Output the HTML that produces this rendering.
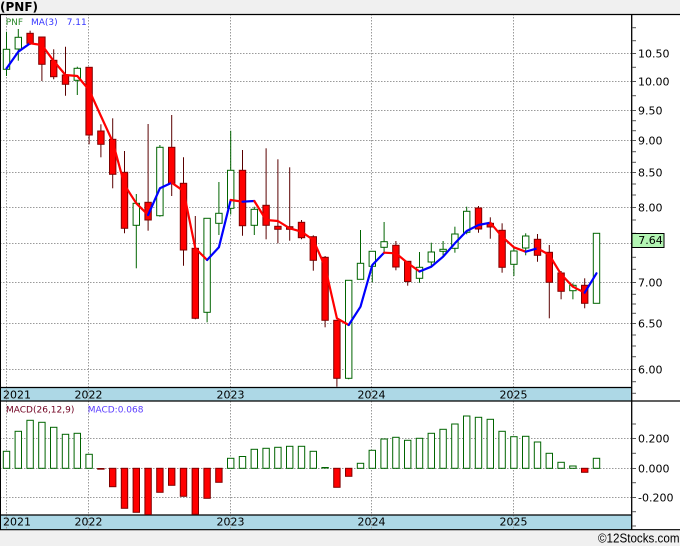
<!DOCTYPE html>
<html><head><meta charset="utf-8"><style>
html,body{margin:0;padding:0;background:#f0f0f0;}
svg{display:block;}
text{font-family:"DejaVu Sans","Liberation Sans",sans-serif;}
.gw{stroke:#006400;stroke-width:1;}
.rw{stroke:#5a0000;stroke-width:1;}
.g{fill:#fff;stroke:#006400;stroke-width:1;}
.r{fill:#ff0000;stroke:#800000;stroke-width:1;}
.grid{stroke:#9a9a9a;stroke-width:1;stroke-dasharray:1.5,1.5;fill:none;}
.tk{stroke:#555;stroke-width:1;}
.ax{font-size:11px;fill:#000;}
</style></head><body>
<svg width="680" height="546" viewBox="0 0 680 546" xmlns="http://www.w3.org/2000/svg">
<rect x="0" y="0" width="680" height="546" fill="#f0f0f0"/>
<rect x="0" y="14" width="680" height="516" fill="#ffffff"/>
<text x="0" y="11" font-size="12" font-weight="bold" fill="#000">(PNF)</text>

<!-- bands -->
<rect x="0" y="387.5" width="632" height="13.5" fill="#add8e6"/>
<rect x="0" y="515" width="632" height="14.5" fill="#add8e6"/>

<!-- horizontal grid main -->
<g class="grid">
<line x1="0" y1="53.5" x2="632" y2="53.5"/>
<line x1="0" y1="81.5" x2="632" y2="81.5"/>
<line x1="0" y1="110.5" x2="632" y2="110.5"/>
<line x1="0" y1="140.5" x2="632" y2="140.5"/>
<line x1="0" y1="172.5" x2="632" y2="172.5"/>
<line x1="0" y1="207.5" x2="632" y2="207.5"/>
<line x1="0" y1="243.5" x2="632" y2="243.5"/>
<line x1="0" y1="282.5" x2="632" y2="282.5"/>
<line x1="0" y1="323.5" x2="632" y2="323.5"/>
<line x1="0" y1="369.5" x2="632" y2="369.5"/>
<line x1="0" y1="438.5" x2="632" y2="438.5"/>
<line x1="0" y1="468.5" x2="632" y2="468.5"/>
<line x1="0" y1="497.5" x2="632" y2="497.5"/>
<line x1="6.5" y1="14" x2="6.5" y2="530"/>
<line x1="88.5" y1="14" x2="88.5" y2="530"/>
<line x1="230.5" y1="14" x2="230.5" y2="530"/>
<line x1="371.5" y1="14" x2="371.5" y2="530"/>
<line x1="513.5" y1="14" x2="513.5" y2="530"/>
</g>

<!-- frame lines -->
<line x1="0" y1="14.5" x2="680" y2="14.5" stroke="#000" stroke-width="1.2"/>
<line x1="0.5" y1="14" x2="0.5" y2="530" stroke="#000" stroke-width="1"/>
<line x1="0" y1="387.5" x2="632" y2="387.5" stroke="#000" stroke-width="1.2"/>
<line x1="0" y1="401" x2="680" y2="401" stroke="#000" stroke-width="1.2"/>
<line x1="0" y1="515" x2="632" y2="515" stroke="#000" stroke-width="1.2"/>
<line x1="0" y1="529.7" x2="680" y2="529.7" stroke="#000" stroke-width="1.2"/>
<line x1="631.7" y1="14" x2="631.7" y2="530" stroke="#000" stroke-width="1.3"/>

<!-- year labels -->
<g class="ax">
<text x="3" y="398.3">2021</text>
<text x="88.5" y="398.3" text-anchor="middle">2022</text>
<text x="230.5" y="398.3" text-anchor="middle">2023</text>
<text x="371.5" y="398.3" text-anchor="middle">2024</text>
<text x="513.5" y="398.3" text-anchor="middle">2025</text>
<text x="3" y="525.7">2021</text>
<text x="88.5" y="525.7" text-anchor="middle">2022</text>
<text x="230.5" y="525.7" text-anchor="middle">2023</text>
<text x="371.5" y="525.7" text-anchor="middle">2024</text>
<text x="513.5" y="525.7" text-anchor="middle">2025</text>
</g>

<!-- right axis ticks -->
<g class="tk">
<line x1="632" y1="27.7" x2="636" y2="27.7"/><line x1="632" y1="40.7" x2="636" y2="40.7"/>
<line x1="632" y1="53.5" x2="636" y2="53.5"/><line x1="632" y1="67.3" x2="636" y2="67.3"/>
<line x1="632" y1="81.5" x2="636" y2="81.5"/><line x1="632" y1="95.7" x2="636" y2="95.7"/>
<line x1="632" y1="110.5" x2="636" y2="110.5"/><line x1="632" y1="120.7" x2="636" y2="120.7"/>
<line x1="632" y1="130.7" x2="636" y2="130.7"/><line x1="632" y1="140.5" x2="636" y2="140.5"/>
<line x1="632" y1="151.7" x2="636" y2="151.7"/><line x1="632" y1="162.3" x2="636" y2="162.3"/>
<line x1="632" y1="172.5" x2="636" y2="172.5"/><line x1="632" y1="184" x2="636" y2="184"/>
<line x1="632" y1="195" x2="636" y2="195"/><line x1="632" y1="207.5" x2="636" y2="207.5"/>
<line x1="632" y1="220" x2="636" y2="220"/><line x1="632" y1="233.3" x2="636" y2="233.3"/>
<line x1="632" y1="257.3" x2="636" y2="257.3"/><line x1="632" y1="269.3" x2="636" y2="269.3"/>
<line x1="632" y1="282.5" x2="636" y2="282.5"/><line x1="632" y1="294.3" x2="636" y2="294.3"/>
<line x1="632" y1="304" x2="636" y2="304"/><line x1="632" y1="313.3" x2="636" y2="313.3"/>
<line x1="632" y1="323.5" x2="636" y2="323.5"/><line x1="632" y1="335" x2="636" y2="335"/>
<line x1="632" y1="346" x2="636" y2="346"/><line x1="632" y1="356.7" x2="636" y2="356.7"/>
<line x1="632" y1="369.5" x2="636" y2="369.5"/><line x1="632" y1="381.7" x2="636" y2="381.7"/>
<line x1="632" y1="393.3" x2="636" y2="393.3"/>
<line x1="632" y1="424" x2="636" y2="424"/><line x1="632" y1="438.5" x2="636" y2="438.5"/>
<line x1="632" y1="453.3" x2="636" y2="453.3"/><line x1="632" y1="468.5" x2="636" y2="468.5"/>
<line x1="632" y1="482.7" x2="636" y2="482.7"/><line x1="632" y1="497.5" x2="636" y2="497.5"/>
<line x1="632" y1="511.7" x2="636" y2="511.7"/><line x1="632" y1="526" x2="636" y2="526"/>
</g>

<!-- right axis labels -->
<g class="ax">
<text x="638" y="57.5">10.50</text>
<text x="638" y="85.3">10.00</text>
<text x="638" y="114.3">9.50</text>
<text x="638" y="144.3">9.00</text>
<text x="638" y="176.5">8.50</text>
<text x="638" y="211.3">8.00</text>
<text x="638" y="286.3">7.00</text>
<text x="638" y="327.7">6.50</text>
<text x="638" y="373.3">6.00</text>
<text x="638" y="442.5">0.200</text>
<text x="638" y="472.3">0.000</text>
<text x="638" y="501.5">-0.200</text>
</g>
<rect x="632" y="233.5" width="32" height="14" fill="#b3f5b3" stroke="#000" stroke-width="1"/>
<text class="ax" x="638.3" y="244.2">7.64</text>

<!-- candles -->
<g>
<line class="gw" x1="6.5" y1="31.7" x2="6.5" y2="76"/><rect class="g" x="3.3" y="49.3" width="6.4" height="20"/>
<line class="gw" x1="18.3" y1="29" x2="18.3" y2="60.7"/><rect class="g" x="15.1" y="37.3" width="6.4" height="11.7"/>
<line class="rw" x1="30.1" y1="30.7" x2="30.1" y2="45"/><rect class="r" x="26.9" y="33.3" width="6.4" height="10"/>
<line class="rw" x1="41.9" y1="37" x2="41.9" y2="81"/><rect class="r" x="38.7" y="37" width="6.4" height="27.3"/>
<line class="rw" x1="53.7" y1="49.3" x2="53.7" y2="79.3"/><rect class="r" x="50.5" y="60.3" width="6.4" height="16.4"/>
<line class="rw" x1="65.5" y1="46.7" x2="65.5" y2="95.7"/><rect class="r" x="62.3" y="75" width="6.4" height="9.3"/>
<line class="gw" x1="77.3" y1="66.7" x2="77.3" y2="95"/><rect class="g" x="74.1" y="68.3" width="6.4" height="12"/>
<line class="rw" x1="89.1" y1="67.3" x2="89.1" y2="144.3"/><rect class="r" x="85.9" y="67.3" width="6.4" height="67.7"/>
<line class="rw" x1="100.9" y1="124.3" x2="100.9" y2="157.3"/><rect class="r" x="97.7" y="131" width="6.4" height="13.3"/>
<line class="rw" x1="112.7" y1="118.3" x2="112.7" y2="188.3"/><rect class="r" x="109.5" y="139.3" width="6.4" height="35"/>
<line class="rw" x1="124.5" y1="151" x2="124.5" y2="233.3"/><rect class="r" x="121.3" y="172.3" width="6.4" height="56"/>
<line class="gw" x1="136.3" y1="194" x2="136.3" y2="268.3"/><rect class="g" x="133.1" y="203.3" width="6.4" height="22"/>
<line class="rw" x1="148.1" y1="124" x2="148.1" y2="230.7"/><rect class="r" x="144.9" y="202.3" width="6.4" height="17.7"/>
<line class="gw" x1="159.9" y1="145" x2="159.9" y2="216.7"/><rect class="g" x="156.7" y="147.3" width="6.4" height="68.4"/>
<line class="rw" x1="171.7" y1="115" x2="171.7" y2="196"/><rect class="r" x="168.5" y="147.3" width="6.4" height="36"/>
<line class="rw" x1="183.5" y1="157.3" x2="183.5" y2="265.7"/><rect class="r" x="180.3" y="183.3" width="6.4" height="66.7"/>
<line class="rw" x1="195.3" y1="216" x2="195.3" y2="319.3"/><rect class="r" x="192.1" y="248.3" width="6.4" height="70"/>
<line class="gw" x1="207.1" y1="218.3" x2="207.1" y2="322.3"/><rect class="g" x="203.9" y="218.3" width="6.4" height="94"/>
<line class="gw" x1="218.9" y1="182" x2="218.9" y2="235"/><rect class="g" x="215.7" y="213.3" width="6.4" height="10"/>
<line class="gw" x1="230.7" y1="130.7" x2="230.7" y2="214.5"/><rect class="g" x="227.5" y="170.3" width="6.4" height="38"/>
<line class="rw" x1="242.5" y1="150" x2="242.5" y2="235.7"/><rect class="r" x="239.3" y="170.3" width="6.4" height="55.4"/>
<line class="gw" x1="254.3" y1="206.7" x2="254.3" y2="235"/><rect class="g" x="251.1" y="209.3" width="6.4" height="16"/>
<line class="rw" x1="266.1" y1="148.3" x2="266.1" y2="239.3"/><rect class="r" x="262.9" y="205.3" width="6.4" height="20"/>
<line class="rw" x1="277.9" y1="159.3" x2="277.9" y2="243.3"/><rect class="r" x="274.7" y="226.3" width="6.4" height="3"/>
<line class="rw" x1="289.7" y1="167.3" x2="289.7" y2="240.7"/><rect class="r" x="286.5" y="226.7" width="6.4" height="2.6"/>
<line class="rw" x1="301.5" y1="220" x2="301.5" y2="239.3"/><rect class="r" x="298.3" y="222.3" width="6.4" height="15.4"/>
<line class="rw" x1="313.3" y1="235.3" x2="313.3" y2="270.7"/><rect class="r" x="310.1" y="236.7" width="6.4" height="23.6"/>
<line class="rw" x1="325.1" y1="256" x2="325.1" y2="327.3"/><rect class="r" x="321.9" y="257.3" width="6.4" height="63"/>
<line class="rw" x1="336.9" y1="320.3" x2="336.9" y2="386.7"/><rect class="r" x="333.7" y="320.3" width="6.4" height="58"/>
<line class="gw" x1="348.7" y1="280.3" x2="348.7" y2="379.3"/><rect class="g" x="345.5" y="280.3" width="6.4" height="98"/>
<line class="gw" x1="360.5" y1="230" x2="360.5" y2="279.3"/><rect class="g" x="357.3" y="263.3" width="6.4" height="16"/>
<line class="gw" x1="372.3" y1="251.3" x2="372.3" y2="282.3"/><rect class="g" x="369.1" y="251.3" width="6.4" height="15"/>
<line class="gw" x1="384.1" y1="222" x2="384.1" y2="253.3"/><rect class="g" x="380.9" y="241.7" width="6.4" height="5.6"/>
<line class="rw" x1="395.9" y1="241" x2="395.9" y2="270.3"/><rect class="r" x="392.7" y="245.3" width="6.4" height="21.7"/>
<line class="rw" x1="407.7" y1="261.3" x2="407.7" y2="285.7"/><rect class="r" x="404.5" y="261.3" width="6.4" height="20.2"/>
<line class="gw" x1="419.5" y1="252" x2="419.5" y2="282.7"/><rect class="g" x="416.3" y="267.3" width="6.4" height="11"/>
<line class="gw" x1="431.3" y1="242.7" x2="431.3" y2="266.7"/><rect class="g" x="428.1" y="252" width="6.4" height="10"/>
<line class="gw" x1="443.1" y1="241" x2="443.1" y2="255.7"/><rect class="g" x="439.9" y="249.3" width="6.4" height="2"/>
<line class="gw" x1="454.9" y1="226.7" x2="454.9" y2="252.7"/><rect class="g" x="451.7" y="234" width="6.4" height="14.3"/>
<line class="gw" x1="466.7" y1="206.7" x2="466.7" y2="234.3"/><rect class="g" x="463.5" y="211.3" width="6.4" height="21"/>
<line class="rw" x1="478.5" y1="206" x2="478.5" y2="232.7"/><rect class="r" x="475.3" y="208" width="6.4" height="21"/>
<line class="rw" x1="490.3" y1="217.3" x2="490.3" y2="238.7"/><rect class="r" x="487.1" y="223.3" width="6.4" height="3.7"/>
<line class="rw" x1="502.1" y1="223.3" x2="502.1" y2="272.7"/><rect class="r" x="498.9" y="230.3" width="6.4" height="37"/>
<line class="gw" x1="513.9" y1="247.7" x2="513.9" y2="276"/><rect class="g" x="510.7" y="251" width="6.4" height="13.3"/>
<line class="gw" x1="525.7" y1="233.3" x2="525.7" y2="255.3"/><rect class="g" x="522.5" y="236" width="6.4" height="12"/>
<line class="rw" x1="537.5" y1="234" x2="537.5" y2="261.7"/><rect class="r" x="534.3" y="239.3" width="6.4" height="16"/>
<line class="rw" x1="549.3" y1="245" x2="549.3" y2="318.3"/><rect class="r" x="546.1" y="252.3" width="6.4" height="30"/>
<line class="rw" x1="561.1" y1="271" x2="561.1" y2="299.3"/><rect class="r" x="557.9" y="273" width="6.4" height="18.3"/>
<line class="gw" x1="572.9" y1="283.3" x2="572.9" y2="299.3"/><rect class="g" x="569.7" y="285.3" width="6.4" height="5.4"/>
<line class="rw" x1="584.7" y1="278.3" x2="584.7" y2="308.3"/><rect class="r" x="581.5" y="285.3" width="6.4" height="18"/>
<rect class="g" x="593.3" y="233.3" width="6.4" height="70"/>
</g>

<!-- MA(3) -->
<g fill="none" stroke-width="2.2" stroke-linejoin="round" stroke-linecap="round">
<polyline stroke="#0000ff" points="6.5,68.5 18.3,51.7 30.1,43.3"/>
<polyline stroke="#ff0000" points="30.1,43.3 41.9,45 53.7,61 65.5,75 77.3,76 89.1,90 100.9,116 112.7,141.7 124.5,185 136.3,203.3 148.1,215"/>
<polyline stroke="#0000ff" points="148.1,215 159.9,188.3 171.7,182.7"/>
<polyline stroke="#ff0000" points="171.7,182.7 183.5,191 195.3,248.3 207.1,260"/>
<polyline stroke="#0000ff" points="207.1,260 218.9,247.3 230.7,200"/>
<polyline stroke="#ff0000" points="230.7,200 242.5,201.7"/>
<polyline stroke="#0000ff" points="242.5,201.7 254.3,201"/>
<polyline stroke="#ff0000" points="254.3,201 266.1,220 277.9,221 289.7,228.3 301.5,231.7 313.3,240 325.1,266.7 336.9,318.3 348.7,325"/>
<polyline stroke="#0000ff" points="348.7,325 360.5,306.7 372.3,265 384.1,252.7"/>
<polyline stroke="#ff0000" points="384.1,252.7 395.9,253.3 407.7,263 419.5,271.5"/>
<polyline stroke="#0000ff" points="419.5,271.5 431.3,266.7 443.1,256.7 454.9,243.3 466.7,231 478.5,225 490.3,222.7"/>
<polyline stroke="#ff0000" points="490.3,222.7 502.1,236.7 513.9,247.3 525.7,251.7"/>
<polyline stroke="#0000ff" points="525.7,251.7 537.5,248.3"/>
<polyline stroke="#ff0000" points="537.5,248.3 549.3,255 561.1,274.3 572.9,286.7 584.7,292.7"/>
<polyline stroke="#0000ff" points="584.7,292.7 596.5,273.3"/>
</g>

<!-- legend -->
<g font-size="9">
<text x="5.7" y="25" fill="#2f8a2f">PNF</text>
<text x="31" y="25" fill="#3636ff">MA(3)</text>
<text x="66.7" y="25" fill="#3636ff">7.11</text>
<text x="6" y="412.7" fill="#700020">MACD(26,12,9)</text>
<text x="87.7" y="412.7" fill="#5a3cff">MACD:0.068</text>
</g>

<!-- MACD bars -->
<g>
<rect class="g" x="3.3" y="451.3" width="6.4" height="17"/>
<rect class="g" x="15.1" y="431.3" width="6.4" height="37"/>
<rect class="g" x="26.9" y="420.3" width="6.4" height="48"/>
<rect class="g" x="38.7" y="422.3" width="6.4" height="46"/>
<rect class="g" x="50.5" y="427.3" width="6.4" height="41"/>
<rect class="g" x="62.3" y="434.3" width="6.4" height="34"/>
<rect class="g" x="74.1" y="433.3" width="6.4" height="35"/>
<rect class="g" x="85.9" y="454.3" width="6.4" height="14"/>
<rect x="97.2" y="468" width="7.4" height="1.7" fill="#800000"/>
<rect class="r" x="109.5" y="468.3" width="6.4" height="18.4"/>
<rect class="r" x="121.3" y="468.3" width="6.4" height="40"/>
<rect class="r" x="133.1" y="468.3" width="6.4" height="44"/>
<rect class="r" x="144.9" y="468.3" width="6.4" height="46.2"/>
<rect class="r" x="156.7" y="468.3" width="6.4" height="24"/>
<rect class="r" x="168.5" y="468.3" width="6.4" height="17"/>
<rect class="r" x="180.3" y="468.3" width="6.4" height="28"/>
<rect class="r" x="192.1" y="468.3" width="6.4" height="46"/>
<rect class="r" x="203.9" y="468.3" width="6.4" height="30"/>
<rect class="r" x="215.7" y="468.3" width="6.4" height="14"/>
<rect class="g" x="227.5" y="458.3" width="6.4" height="10"/>
<rect class="g" x="239.3" y="456.5" width="6.4" height="11.8"/>
<rect class="g" x="251.1" y="449.3" width="6.4" height="19"/>
<rect class="g" x="262.9" y="448.3" width="6.4" height="20"/>
<rect class="g" x="274.7" y="447.3" width="6.4" height="21"/>
<rect class="g" x="286.5" y="446.3" width="6.4" height="22"/>
<rect class="g" x="298.3" y="446.3" width="6.4" height="22"/>
<rect class="g" x="310.1" y="451.3" width="6.4" height="17"/>
<rect x="321.4" y="467" width="7.4" height="1.5" fill="#006400"/>
<rect class="r" x="333.7" y="468.3" width="6.4" height="19"/>
<rect class="r" x="345.5" y="468.3" width="6.4" height="8"/>
<rect class="g" x="357.3" y="463.3" width="6.4" height="5"/>
<rect class="g" x="369.1" y="450.3" width="6.4" height="18"/>
<rect class="g" x="380.9" y="439" width="6.4" height="29.3"/>
<rect class="g" x="392.7" y="437.3" width="6.4" height="31"/>
<rect class="g" x="404.5" y="440.3" width="6.4" height="28"/>
<rect class="g" x="416.3" y="438.3" width="6.4" height="30"/>
<rect class="g" x="428.1" y="433.3" width="6.4" height="35"/>
<rect class="g" x="439.9" y="429.3" width="6.4" height="39"/>
<rect class="g" x="451.7" y="424" width="6.4" height="44.3"/>
<rect class="g" x="463.5" y="416" width="6.4" height="52.3"/>
<rect class="g" x="475.3" y="417.3" width="6.4" height="51"/>
<rect class="g" x="487.1" y="419.3" width="6.4" height="49"/>
<rect class="g" x="498.9" y="431.3" width="6.4" height="37"/>
<rect class="g" x="510.7" y="436.7" width="6.4" height="31.6"/>
<rect class="g" x="522.5" y="436.3" width="6.4" height="32"/>
<rect class="g" x="534.3" y="442" width="6.4" height="26.3"/>
<rect class="g" x="546.1" y="453.3" width="6.4" height="15"/>
<rect class="g" x="557.9" y="462.3" width="6.4" height="6"/>
<rect class="g" x="569.7" y="466" width="6.4" height="2.3"/>
<rect class="r" x="581.5" y="468.3" width="6.4" height="4"/>
<rect class="g" x="593.3" y="458.3" width="6.4" height="10"/>
</g>

<text x="679.5" y="542.5" text-anchor="end" font-size="13" fill="#000" textLength="81.5" lengthAdjust="spacingAndGlyphs" style="font-family:'Liberation Sans',sans-serif">©12Stocks.com</text>
</svg>
</body></html>
